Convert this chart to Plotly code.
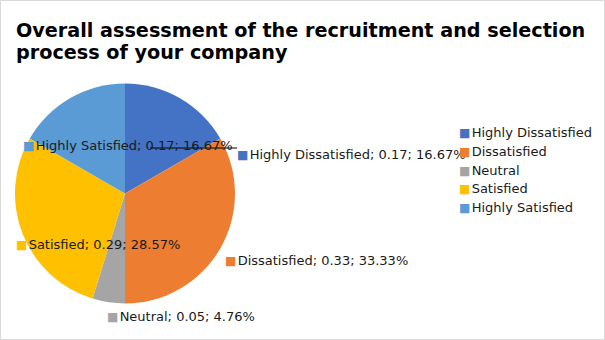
import plotly.graph_objects as go

categories = ["Highly Dissatisfied", "Dissatisfied", "Neutral", "Satisfied", "Highly Satisfied"]
counts = [3.5, 7, 1, 6, 3.5]
value_labels = ["0.17", "0.33", "0.05", "0.29", "0.17"]
pct_labels = ["16.67%", "33.33%", "4.76%", "28.57%", "16.67%"]
colors = ["#4472C4", "#ED7D31", "#A5A5A5", "#FFC000", "#5B9BD5"]

W, H = 605, 340
def px(x): return x / W
def py(y): return 1 - y / H

PAD = 3  # annotation inner padding in px
# label layout (pixels: square left x, center y)
label_pos = [(237, 155), (225, 260), (107, 316), (16, 244), (23, 145)]

fig = go.Figure()
fig.add_trace(go.Pie(
    labels=categories, values=counts, sort=False, direction="clockwise",
    rotation=0, marker=dict(colors=colors, line=dict(width=0)),
    textinfo="none", hoverinfo="label+percent", showlegend=False,
    domain=dict(x=[px(15), px(235)], y=[py(304), py(83)]),
))

ann = []
font = dict(family="DejaVu Sans", size=13, color="#1a1a1a")
SQ = "<span style='font-size:12px;color:{}'>■</span>\u200a"

def add_item(sx, y, color, text):
    ann.append(dict(x=px(sx - PAD + 1), y=py(y), xref="paper", yref="paper", xanchor="left",
                    yanchor="middle", showarrow=False, font=font,
                    text=SQ.format(color) + text))

for i, c in enumerate(categories):
    sx, y = label_pos[i]
    add_item(sx, y, colors[i], f"{c}; {value_labels[i]}; {pct_labels[i]}")
# legend
for i, c in enumerate(categories):
    add_item(459, 132.5 + i * 18.8, colors[i], c)

title_lines = ["Overall assessment of the recruitment and selection", "process of your company"]
for j, t in enumerate(title_lines):
    ann.append(dict(
        x=px(16 - 2), y=py(30 + j * 22), xref="paper", yref="paper", xanchor="left", yanchor="middle",
        showarrow=False, font=dict(family="DejaVu Sans", size=19.2, color="#000000"),
        text=f"<b>{t}</b>",
    ))

shapes = [
    dict(type="rect", xref="paper", yref="paper", x0=px(0.5), x1=px(604.5), y0=py(339.5), y1=py(0.5),
         line=dict(color="#D9D9D9", width=1)),
    dict(type="line", xref="paper", yref="paper", x0=px(150), x1=px(237), y0=py(148), y1=py(148),
         line=dict(color="#000000", width=1)),
]

fig.update_layout(
    width=W, height=H, margin=dict(l=0, r=0, t=0, b=0),
    paper_bgcolor="white", plot_bgcolor="white",
    annotations=ann, shapes=shapes,
)
fig.write_html("out.html")
